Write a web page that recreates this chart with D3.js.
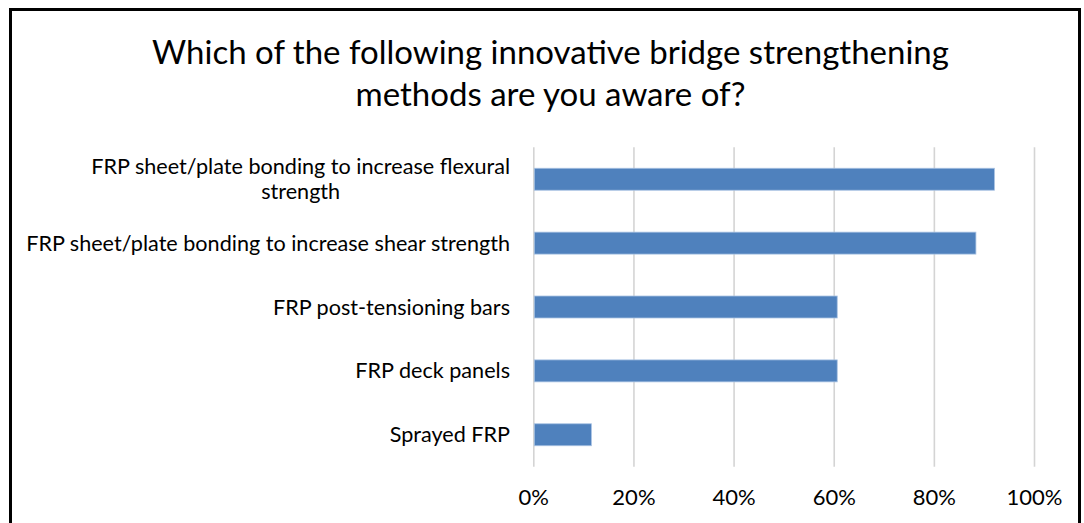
<!DOCTYPE html>
<html>
<head>
<meta charset="utf-8">
<script src="https://cdn.jsdelivr.net/npm/d3@7"></script>
<style>
  html, body { margin: 0; padding: 0; background: #fff; }
  svg { display: block; }
  text { font-family: Lato, "Open Sans", sans-serif; fill: #000; }
</style>
</head>
<body>
<svg id="chart" width="1084" height="523"></svg>
<script>
// ---- data ----
const titleLines = ["Which of the following innovative bridge strengthening", "methods are you aware of?"];
const categories = [
  ["FRP sheet/plate bonding to increase flexural", "strength"],
  ["FRP sheet/plate bonding to increase shear strength"],
  ["FRP post-tensioning bars"],
  ["FRP deck panels"],
  ["Sprayed FRP"]
];
const values = [0.921, 0.884, 0.607, 0.607, 0.116];
const tickValues = [0, 0.2, 0.4, 0.6, 0.8, 1.0];

// ---- layout ----
const svg = d3.select("#chart");
const W = 1084, H = 523;
const plot = { left: 533.3, right: 1034, top: 147.3, bottom: 466.7 };

svg.append("rect").attr("x", 0).attr("y", 0).attr("width", W).attr("height", H).attr("fill", "#fff");
// chart frame
svg.append("rect")
  .attr("x", 10.5).attr("y", 9.5)
  .attr("width", 1069).attr("height", 560)
  .attr("fill", "none").attr("stroke", "#000").attr("stroke-width", 3);

// title
const titleG = svg.append("g");
titleLines.forEach((t, i) => {
  titleG.append("text")
    .attr("x", 550.5).attr("y", 63.5 + i * 42)
    .attr("text-anchor", "middle")
    .style("font-size", "33px")
    .text(t);
});

const x = d3.scaleLinear().domain([0, 1]).range([plot.left, plot.right]);
const keys = categories.map((c, i) => i);
const y = d3.scaleBand().domain(keys).range([plot.top, plot.bottom])
  .paddingInner(0.656).paddingOuter(0.328);

// gridlines
const xAxis = d3.axisBottom(x).tickValues(tickValues)
  .tickSize(-(plot.bottom - plot.top)).tickFormat(d3.format(".0%")).tickPadding(24);
const gx = svg.append("g").attr("transform", `translate(0,${plot.bottom})`).call(xAxis);
gx.select(".domain").remove();
gx.selectAll(".tick line").attr("stroke", "#d4d4d4").attr("stroke-width", 1.6);
gx.selectAll(".tick text")
  .style("font-size", "22px").attr("fill", "#222")
  .attr("dy", null).attr("y", 38.5);

// bars
svg.append("g").selectAll("rect").data(values).join("rect")
  .attr("x", x(0) + 1)
  .attr("y", (d, i) => y(i))
  .attr("width", d => x(d) - x(0) - 1)
  .attr("height", y.bandwidth())
  .attr("fill", "#4f81bd")
  .attr("stroke", "#a9c3e3").attr("stroke-width", 0.8);

// category labels
const labelRight = 510;
const lineH = 25;
const labG = svg.append("g");
categories.forEach((lines, i) => {
  const cy = y(i) + y.bandwidth() / 2;
  const n = lines.length;
  const g = labG.append("g");
  const texts = lines.map((t, j) => g.append("text")
    .attr("y", cy + 7.5 + (j - (n - 1) / 2) * lineH)
    .style("font-size", "21.6px")
    .text(t));
  const widths = texts.map(tx => tx.node().getComputedTextLength());
  const maxW = d3.max(widths);
  const center = labelRight - maxW / 2;
  texts.forEach(tx => tx.attr("x", center).attr("text-anchor", "middle"));
});
</script>
</body>
</html>
